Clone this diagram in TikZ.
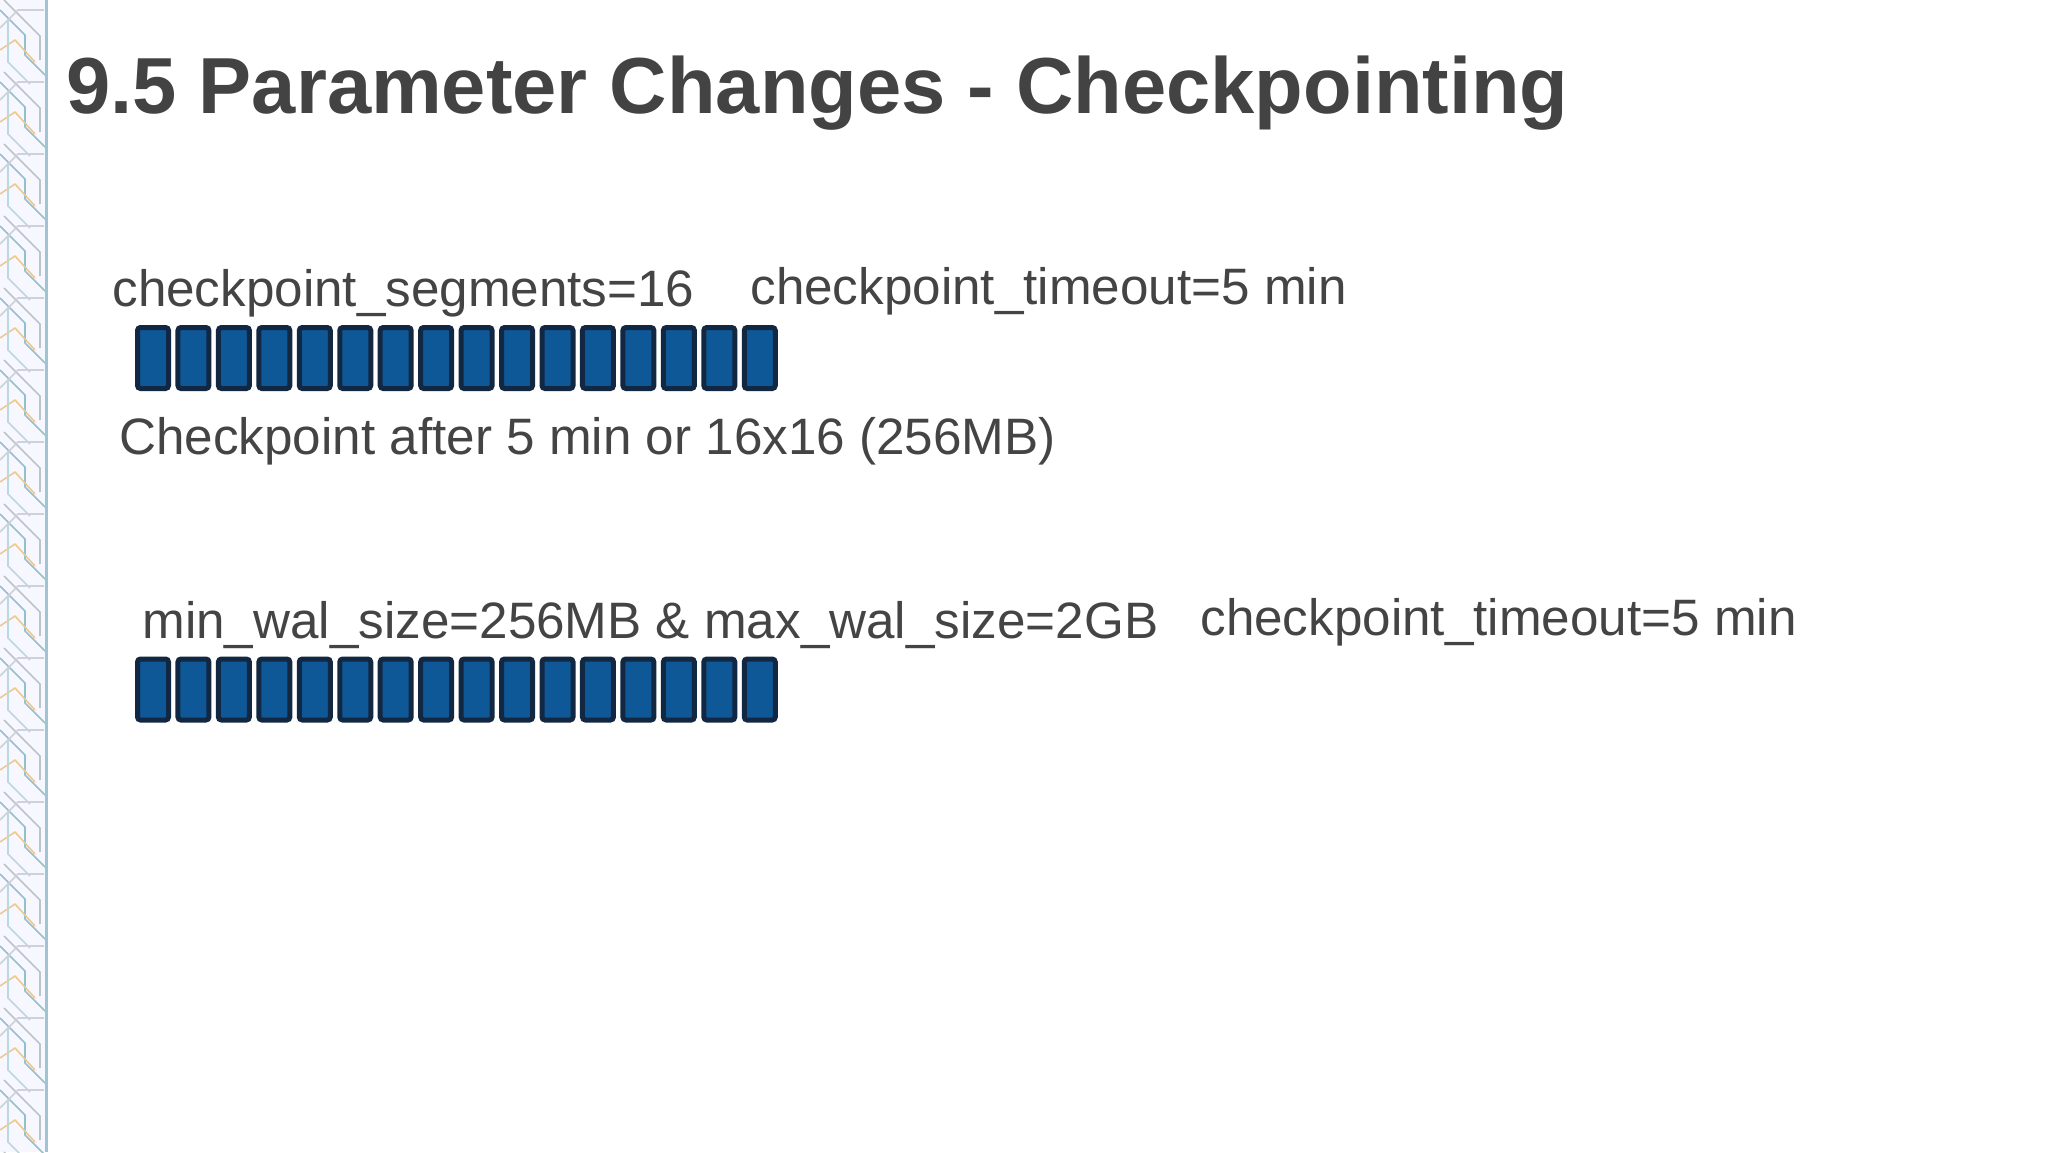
\documentclass[tikz,border=0pt]{standalone}
\usepackage{fontspec}
\setmainfont{Liberation Sans}
\definecolor{txt}{RGB}{68,68,68}
\definecolor{ttl}{RGB}{67,67,67}
\definecolor{blk}{RGB}{14,88,152}
\definecolor{rim}{RGB}{18,40,66}
\definecolor{tealc}{RGB}{60,140,165}
\definecolor{orc}{RGB}{240,200,140}
\definecolor{grc}{RGB}{170,180,190}
\definecolor{edgec}{RGB}{160,196,212}
\begin{document}
\begin{tikzpicture}[x=0.5pt,y=-0.5pt,
 seg/.style={draw=rim, fill=blk, line width=2.5pt, rounded corners=1.5pt, minimum width=15.5pt, minimum height=30.5pt, inner sep=0pt},
 lbl/.style={anchor=base west, inner sep=0pt, text=txt, font=\fontsize{25.6pt}{30pt}\selectfont},
 ttlstyle/.style={anchor=base west, inner sep=0pt, text=ttl, font=\fontsize{39.75pt}{46pt}\selectfont\bfseries},
 deco/.style={line width=0.8pt, line join=round}]
\fill[white] (0,0) rectangle (2048,1152);
\useasboundingbox (0,0) rectangle (2048,1152);
% decorative left strip
\fill[blue!3] (0,0) rectangle (46,1152);
\begin{scope}
\clip (0,0) rectangle (45,1152);
\foreach \y [count=\i] in {0,72,...,1152} {
  \draw[deco, tealc!55] (0,\y+10) -- (25,\y+35) -- (25,\y+55) -- (45,\y+75);
  \draw[deco, grc!80] (4,\y) -- (40,\y+36) -- (40,\y+60);
  \draw[deco, orc] (0,\y+50) -- (15,\y+40) -- (35,\y+62);
  \draw[deco, tealc!35] (8,\y+20) -- (8,\y+62) -- (30,\y+84);
  \draw[deco, grc!60] (0,\y+28) -- (18,\y+10) -- (44,\y+10);
}
\end{scope}
\draw[edgec, line width=1.5pt] (46.5,0) -- (46.5,1152);
% title
\node[ttlstyle] (title) at (66,113) {9.5 Parameter Changes - Checkpointing};
% labels
\node[lbl] (segs) at (112,306.5) {checkpoint\_segments=16};
\node[lbl] (tout1) at (750,304.5) {checkpoint\_timeout=5 min};
\node[lbl] (note) at (119,454) {Checkpoint after 5 min or 16x16 (256MB)};
\node[lbl] (wal) at (142,638) {min\_wal\_size=256MB \& max\_wal\_size=2GB};
\node[lbl] (tout2) at (1200,635) {checkpoint\_timeout=5 min};
% segment blocks
\foreach \r/\yy in {a/358,b/689.5} {
  \foreach \k in {1,...,16} {
    \node[seg] (\r\k) at ({153+40.45*(\k-1)},\yy) {};
  }
}
\end{tikzpicture}
\end{document}
